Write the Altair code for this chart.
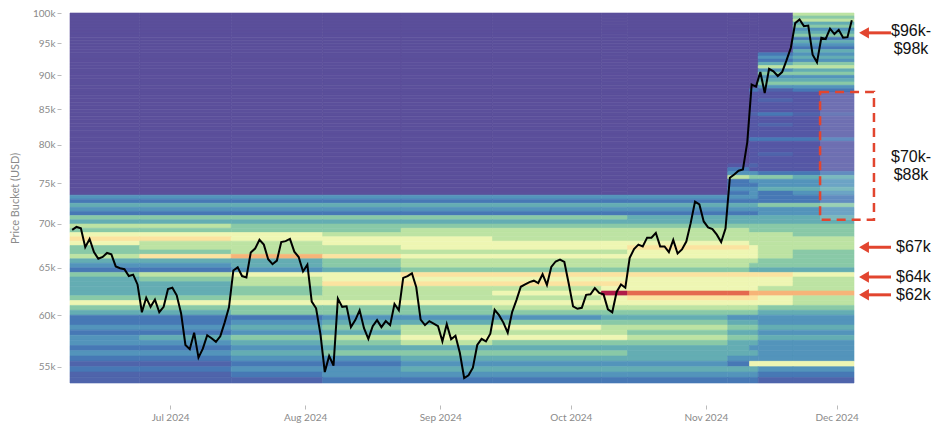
import altair as alt
import pandas as pd

# ---------------- data ----------------
line_start = "2024-06-08"
btc_close = [
    # Jun 8 - Jun 30
    69300, 69650, 69500, 67300, 68250, 66750, 66000, 66200, 66650, 66500, 65150, 64950,
    64850, 64100, 64250, 63200, 60300, 61800, 60850, 61600, 60300, 60850, 62700,
    # Jul
    62850, 62050, 60200, 57050, 56650, 58250, 55850, 56700, 58000, 57700, 57350, 57900,
    59250, 60800, 64700, 65050, 64100, 63950, 66700, 67150, 68150, 67600, 65950, 65400,
    65800, 67900, 68000, 68250, 66800, 66200, 64600,
    # Aug
    65350, 61400, 60700, 58100, 54500, 56000, 55100, 61700, 60850, 60900, 58800, 59500,
    60500, 58700, 57650, 58900, 59500, 58800, 59400, 59000, 61150, 60500, 63900, 64100,
    64400, 62900, 59550, 59000, 59400, 59150, 58900,
    # Sep
    57400, 59100, 57600, 57950, 56300, 53950, 54200, 54900, 57050, 57650, 57400, 58150,
    60550, 60000, 59250, 58250, 60300, 61550, 62950, 63200, 63450, 63600, 63350, 64300,
    63150, 65100, 65700, 65900, 65650, 63300,
    # Oct
    60900, 60650, 60750, 62100, 62150, 62800, 62300, 62150, 60600, 60300, 62400, 63200,
    62850, 66100, 67100, 67600, 67400, 68400, 68400, 68950, 67400, 67400, 66750, 68150,
    66600, 67050, 67950, 70100, 72700, 72350, 70300,
    # Nov
    69600, 69400, 68750, 67900, 69450, 75700, 76100, 76600, 76750, 80400, 88600, 88300,
    90500, 87350, 91000, 90600, 89900, 90500, 92300, 94300, 98300, 98900, 97800, 97900,
    93200, 92000, 95900, 95700, 97400, 96500,
    # Dec 1 - Dec 4
    97200, 95900, 96000, 98800,
]

bucket_size = 500
bucket_lows = list(range(99500, 53000, -500))          # 99.5k ... 53.5k
period_starts = ["2024-06-08", "2024-06-24", "2024-07-15", "2024-08-05",
                 "2024-08-23", "2024-09-13", "2024-10-08", "2024-10-14",
                 "2024-11-06", "2024-11-11", "2024-11-13", "2024-11-21"]
period_end = "2024-12-05"

# one string per bucket (top to bottom), one level character per period
heat_rows = [
    "000000000006", "000000000005", "000000000006", "000000000004", "000000000005",
    "000000000003", "000000000004", "000000000005", "000000000002", "000000000004",
    "000000000003", "000000000002", "000000000004",                      # 99.5k - 93.5k
    "000000000023", "000000000034", "000000000023", "000000000045", "000000000066",
    "000000000034", "000000000055", "000000000033", "000000000044", "000000000055",
    "000000000033",                                                      # 93k - 88k
    "000000000212", "000000000ppp", "000000000ppp", "000000000p1p", "000000000ppp",
    "000000000ppp", "000000000ppp", "000000000121", "000000000ppp", "000000000ppp",
    "000000000p1p", "000000000ppp", "000000000ppp", "000000000ppp", "000000000222",
    "000000000ppp", "000000000ppp", "000000000ppp", "000000000p1p", "000000000ppp",
    "000000000ppp", "00000000p1pp", "000000002ppp", "000000003322",      # 87.5k - 76k
    "000000006554", "000000002333", "000000002233", "000000003344", "000000002323",
    "333333333322", "222222222222", "444444444455", "333333333333", "222222222233",
    "555555544444", "444444444444", "665555555555", "555566666555", "777666666665",
    "887776666666", "766777777666", "566677788766", "556666677765", "689877777765",
    "444566666655", "334566666555", "223455555444", "567788888887", "456777777776",
    "446888877776", "445666777766", "445667baa999", "556666788876", "777777777776",
    "555556666655", "445555555544", "222333443333", "223445554433", "334567665544",
    "223466654433", "345677765544", "334565554433", "223444444333", "334555544433",
    "223344443333", "112233332777", "223344444433", "112333333322", "111222222211",
]

level_keys = ["0", "p", "1", "2", "3", "4", "5", "6", "7", "8", "9", "a", "b"]
level_colors = ["#5b4f9b", "#5557a5", "#4f64ab", "#4778b5", "#5394bb", "#64adb3",
                "#89c9a7", "#bde3a3", "#eef6b3", "#fbe3a0", "#f6b478", "#e4694f", "#b01c48"]

arrow_prices = [96700, 67300, 64000, 62100]
single_labels = ["$67k", "$64k", "$62k"]
single_prices = [67300, 64000, 62100]
block_labels = ["$96k-\n$98k", "$70k-\n$88k"]
block_prices = [97000, 78400]
box_x = ["2024-11-27T05:00:00Z", "2024-12-09T14:00:00Z"]
box_y = [70500, 87500]

# ---------------- tables ----------------
assert len(heat_rows) == len(bucket_lows)
edges = period_starts + [period_end]
cells = []
for lo, row in zip(bucket_lows, heat_rows):
    assert len(row) == len(period_starts)
    for i, ch in enumerate(row):
        cells.append({"t0": edges[i], "t1": edges[i + 1], "lo": lo,
                      "hi": lo + bucket_size, "lvl": ch})
heat_df = pd.DataFrame(cells)

line_dates = pd.date_range(line_start, periods=len(btc_close), freq="D")
line_df = pd.DataFrame({"date": [d.strftime("%Y-%m-%dT12:00:00Z") for d in line_dates],
                        "price": btc_close})
arrow_df = pd.DataFrame({"p": arrow_prices})
single_df = pd.DataFrame({"p": single_prices, "label": single_labels})
block_df = pd.DataFrame({"p": block_prices, "label": block_labels})
box_df = pd.DataFrame({"x0": [box_x[0]], "x1": [box_x[1]], "y0": [box_y[0]], "y1": [box_y[1]]})

# ---------------- scales / axes ----------------
RED = "#e2452f"
GREY = "#8a8a8a"
xscale = alt.Scale(type="utc", domain=[alt.DateTime(year=2024, month=6, date=8, utc=True),
                                       alt.DateTime(year=2024, month=12, date=5, utc=True)])
yscale = alt.Scale(type="log", domain=[53500, 100000], nice=False, zero=False)
xaxis = alt.Axis(title=None, format="%b %Y", grid=False, domain=False, offset=22,
                 tickSize=4, tickColor="#bbbbbb", labelColor=GREY, labelFont="Lato",
                 labelFontSize=10, labelPadding=3,
                 values=[alt.DateTime(year=2024, month=m, date=1, utc=True) for m in range(7, 13)])
yaxis = alt.Axis(title="Price Bucket (USD)", format="~s", grid=False, domain=False, offset=9,
                 tickSize=4, tickColor="#bbbbbb", labelColor=GREY, labelFont="Lato",
                 labelFontSize=10, labelPadding=2, titleColor=GREY, titleFont="Lato",
                 titleFontSize=11, titleFontWeight="normal", titlePadding=12,
                 values=list(range(55000, 100001, 5000)))
cscale = alt.Scale(domain=level_keys, range=level_colors)

heat = alt.Chart(heat_df).mark_rect(strokeWidth=0.6).encode(
    x=alt.X("t0:T", scale=xscale, axis=xaxis),
    x2="t1:T",
    y=alt.Y("lo:Q", scale=yscale, axis=yaxis),
    y2="hi:Q",
    color=alt.Color("lvl:N", scale=cscale, legend=None),
    stroke=alt.Stroke("lvl:N", scale=cscale, legend=None),
)

line = alt.Chart(line_df).mark_line(color="black", strokeWidth=2).encode(
    x=alt.X("date:T", scale=xscale, axis=xaxis),
    y=alt.Y("price:Q", scale=yscale, axis=yaxis),
)

box = alt.Chart(box_df).mark_rect(fill="white", fillOpacity=0.15, stroke=RED,
                                  strokeWidth=2.5, strokeDash=[9, 6]).encode(
    x=alt.X("x0:T", scale=xscale, axis=xaxis), x2="x1:T",
    y=alt.Y("y0:Q", scale=yscale, axis=yaxis), y2="y1:Q",
)

shaft = alt.Chart(arrow_df).mark_rule(color=RED, strokeWidth=3).encode(
    x=alt.value(796), x2=alt.value(821),
    y=alt.Y("p:Q", scale=yscale, axis=yaxis),
)
head = alt.Chart(arrow_df).mark_point(shape="triangle-left", filled=True, size=130,
                                      color=RED, opacity=1).encode(
    x=alt.value(794),
    y=alt.Y("p:Q", scale=yscale, axis=yaxis),
)
single_text = alt.Chart(single_df).mark_text(align="left", baseline="middle",
                                             font="Liberation Sans", fontSize=16,
                                             color="#111111").encode(
    x=alt.value(826), y=alt.Y("p:Q", scale=yscale, axis=yaxis), text="label:N",
)
block_text = alt.Chart(block_df).mark_text(align="center", baseline="middle",
                                           font="Liberation Sans", fontSize=16,
                                           lineBreak="\n", lineHeight=18,
                                           color="#111111").encode(
    x=alt.value(841), y=alt.Y("p:Q", scale=yscale, axis=yaxis), text="label:N",
)

chart = alt.layer(heat, line, box, shaft, head, single_text, block_text).properties(
    width=784, height=370,
    autosize=alt.AutoSizeParams(type="none"),
    padding={"left": 62, "top": 5, "right": 78, "bottom": 41},
).configure_view(strokeWidth=0)

chart.save("out.html", embed_options={"renderer": "svg", "actions": False})
